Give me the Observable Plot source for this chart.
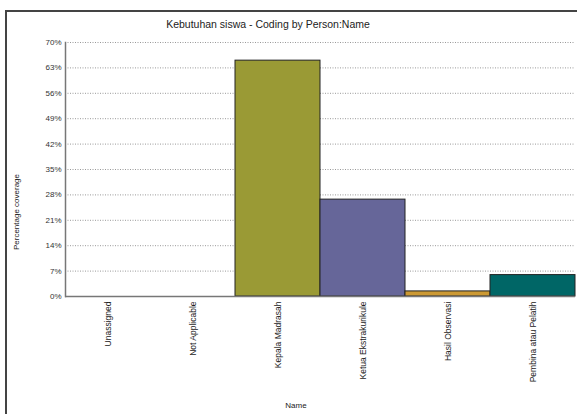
<!DOCTYPE html>
<html>
<head>
<meta charset="utf-8">
<script src="https://cdn.jsdelivr.net/npm/d3@7"></script>
<script src="https://cdn.jsdelivr.net/npm/@observablehq/plot@0.6"></script>
<style>
  html, body { margin: 0; padding: 0; background: #fff; }
  #wrap { position: relative; width: 577px; height: 414px; overflow: hidden; font-family: "Liberation Sans", Arial, sans-serif; }
  #box { position: absolute; left: 5px; top: 10px; width: 600px; height: 500px; border-left: 2px solid #444; border-top: 2px solid #444; box-sizing: border-box; }
  #title { position: absolute; left: 0; width: 536px; top: 18px; text-align: center; font-size: 10.5px; color: #222; }
  #xlabel { position: absolute; left: 0; width: 592px; top: 401px; text-align: center; font-size: 8px; color: #222; }
  #ylabel { position: absolute; left: 16px; top: 212px; font-size: 8px; color: #222; transform: translate(-50%, -50%) rotate(-90deg); white-space: nowrap; }
  #chart { position: absolute; left: 0; top: 0; }
</style>
</head>
<body>
<div id="wrap">
  <div id="box"></div>
  <div id="chart"></div>
  <div id="title">Kebutuhan siswa - Coding by Person:Name</div>
  <div id="ylabel">Percentage coverage</div>
  <div id="xlabel">Name</div>
</div>
<script>
const categories = ["Unassigned", "Not Applicable", "Kepala Madrasah", "Ketua Ekstrakurikule", "Hasil Observasi", "Pembina atau Pelatih"];
const values = [0, 0, 65.0, 26.7, 1.4, 5.9];
const colors = ["#999933", "#999933", "#9a9a35", "#666699", "#cc9933", "#006666"];
const yTicks = [0, 7, 14, 21, 28, 35, 42, 49, 56, 63, 70];

const data = categories.map((c, i) => ({name: c, value: values[i], color: colors[i]}));

const chart = Plot.plot({
  width: 577,
  height: 414,
  marginLeft: 65,
  marginRight: 2,
  marginTop: 42,
  marginBottom: 118,
  style: {fontFamily: "Liberation Sans, Arial, sans-serif", fontSize: "8px", color: "#333", background: "transparent"},
  x: {type: "band", domain: categories, padding: 0, label: null},
  y: {domain: [0, 70], label: null},
  marks: [
    Plot.ruleY(yTicks.slice(1), {stroke: "#999", strokeDasharray: "1,1.5", strokeWidth: 1}),
    Plot.barY(data, {x: "name", y: "value", fill: "color", stroke: "#222", strokeWidth: 1}),
    Plot.axisY({ticks: yTicks, tickFormat: d => d + "%", tickSize: 0, tickPadding: 4, label: null, fill: "#333"}),
    Plot.axisX({tickRotate: -90, tickSize: 0, tickPadding: 5, label: null, fontSize: 8.5, fill: "#222"}),
    Plot.frame({anchor: "left", stroke: "#777", strokeWidth: 1.5}),
    Plot.ruleY([0], {stroke: "#777", strokeWidth: 1.5})
  ]
});
document.getElementById("chart").appendChild(chart);
</script>
</body>
</html>
